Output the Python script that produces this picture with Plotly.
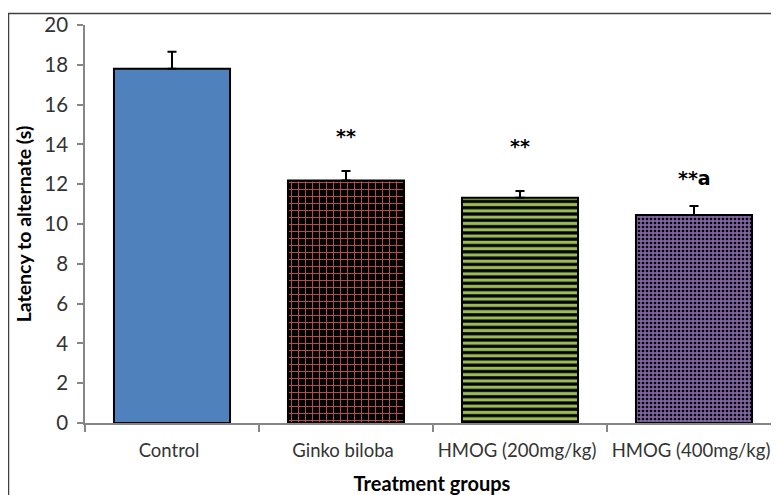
import plotly.graph_objects as go

categories = ["Control", "Ginko biloba", "HMOG (200mg/kg)", "HMOG (400mg/kg)"]
values = [17.8, 12.18, 11.32, 10.45]
errors = [0.86, 0.48, 0.34, 0.45]
sig_labels = ["", "**", "**", "**a"]
sig_y = [None, 14.4, 13.9, 12.3]

fill_colors = ["#4F81BD", "#000000", "#000000", "#8064A2"]
pattern_shapes = ["", "+", "-", "."]
pattern_fg = ["#4F81BD", "#C0504D", "#9BBB59", "#000000"]
pattern_size = [8, 7, 6.3, 4]
pattern_solid = [0.3, 0.25, 0.5, 0.35]

FONT = "Lato"

fig = go.Figure()
for i, c in enumerate(categories):
    marker = dict(color=fill_colors[i], line=dict(color="black", width=2))
    if pattern_shapes[i]:
        marker["pattern"] = dict(shape=pattern_shapes[i], fgcolor=pattern_fg[i],
                                 bgcolor=fill_colors[i], size=pattern_size[i],
                                 solidity=pattern_solid[i], fillmode="replace")
    fig.add_trace(go.Bar(
        x=[c], y=[values[i]], marker=marker, width=0.667,
        error_y=dict(type="data", symmetric=False, array=[errors[i]], arrayminus=[0],
                     color="black", thickness=2, width=4.5),
        showlegend=False,
    ))

for i, c in enumerate(categories):
    if sig_labels[i]:
        fig.add_annotation(x=c, y=sig_y[i], text="<b>" + sig_labels[i] + "</b>",
                           showarrow=False, yanchor="middle",
                           font=dict(family="DejaVu Sans", size=19, color="#000000"))

# page body has an 8px margin, so figure coordinates are offset by 8px
W, H = 771, 487
l, r, t, b = 77, 0, 17, 72
pw, ph = W - l - r, H - t - b
fig.add_shape(type="rect", xref="paper", yref="paper",
              x0=(0.5 - l) / pw, x1=1.2, y0=-0.5, y1=(H - b - 5.5) / ph,
              line=dict(color="#404040", width=1.5), fillcolor="rgba(0,0,0,0)", layer="below")

fig.update_layout(
    width=W, height=H,
    margin=dict(l=l, r=r, t=t, b=b),
    plot_bgcolor="white", paper_bgcolor="white",
    bargap=0.333,
    font=dict(family=FONT, size=18.5, color="#333333"),
    xaxis=dict(type="category", range=[-0.5, -0.5 + pw / 174.0], automargin=False,
               showline=True, linecolor="#868686", linewidth=1.5, tickangle=0,
               ticks="outside", tickson="boundaries", ticklen=7, tickcolor="#868686", tickwidth=1.5,
               showgrid=False, tickfont=dict(size=18.5, color="#333333"), ticklabelstandoff=10,
               ticklabelshift=-3,
               title=dict(text="<b>Treatment groups</b>", font=dict(size=20, color="#000000"), standoff=24)),
    yaxis=dict(range=[0, 20], dtick=2, showline=True, linecolor="#868686", linewidth=1.5,
               automargin=False,
               ticks="outside", ticklen=6, tickcolor="#868686", tickwidth=1.5,
               showgrid=False, zeroline=False, ticklabelstandoff=5,
               tickfont=dict(size=20.5, color="#333333"),
               title=dict(text="<b>Latency to alternate (s)</b>", font=dict(size=19.5, color="#000000"), standoff=8)),
)

fig.write_html("out.html")
